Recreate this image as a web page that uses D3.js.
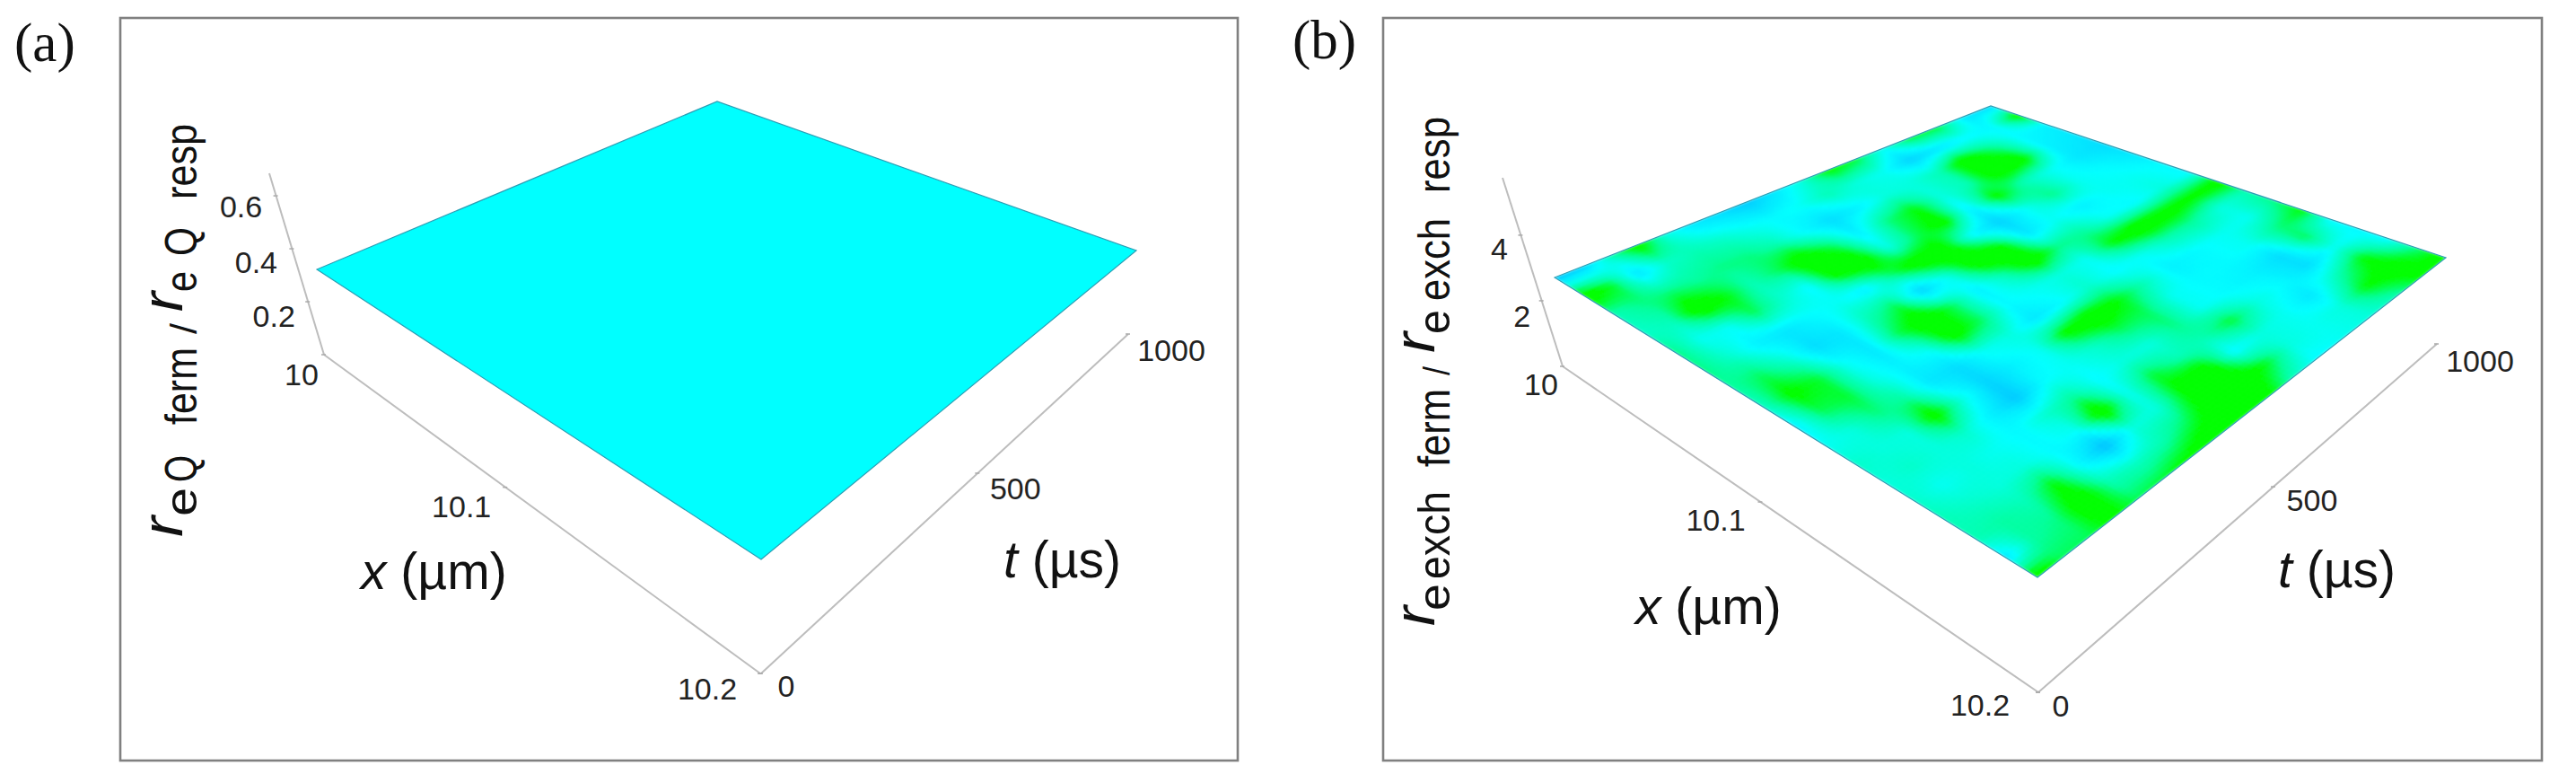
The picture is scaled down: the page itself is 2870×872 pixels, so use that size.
<!DOCTYPE html>
<html><head><meta charset="utf-8">
<style>html,body{margin:0;background:#fff}svg{display:block}text{font-family:"Liberation Sans",Arial,sans-serif;fill:#222}</style>
<script src="https://cdnjs.cloudflare.com/ajax/libs/d3/7.8.5/d3.min.js"></script>
</head><body><svg id="c" width="2870" height="872"></svg>
<script>
// ---- data ----
const xTicks = [10, 10.1, 10.2];
const tTicks = [0, 500, 1000];
const zTicksA = [0.2, 0.4, 0.6];
const zTicksB = [2, 4];
const surfaceA = [[0.4, 0.4], [0.4, 0.4]];
// rows: x from 10 to 10.2; columns: t from 0 to 1000
const surfaceB = [
[2.1,2.2,2.6,2.95,2.5,2.3,2.25,2.15,2.3,2.5,2.9,2.8,2.45,2.8,2.8,2.3,2.2],
[3.0,2.8,2.3,2.55,2.6,2.55,2.45,2.4,2.45,2.6,2.5,2.45,2.2,2.3,2.4,2.4,2.95],
[2.6,2.7,2.7,2.65,2.7,2.7,2.6,2.4,2.25,2.35,2.5,2.5,2.6,3.0,2.7,2.4,2.35],
[2.55,2.6,3.0,2.85,2.6,2.75,3.0,2.75,2.35,2.7,2.85,2.5,2.6,3.0,2.95,2.35,2.3],
[2.7,2.45,2.45,2.75,2.55,2.4,2.95,3.0,2.5,2.75,2.95,2.35,2.9,2.6,2.45,2.3,2.25],
[2.7,2.55,2.35,2.3,2.4,2.45,2.35,2.7,3.0,2.95,2.4,2.2,2.45,2.7,2.45,2.4,2.3],
[2.65,2.75,2.55,2.25,2.3,2.6,2.75,2.2,2.5,3.0,2.95,2.3,2.45,2.35,2.45,2.45,2.4],
[2.55,2.9,2.8,2.45,2.3,2.75,3.0,2.75,2.35,2.6,3.0,2.7,2.65,2.45,2.4,2.5,2.4],
[2.35,2.75,2.8,2.5,2.35,2.45,2.95,2.75,2.4,2.45,2.5,2.45,2.85,3.0,2.95,2.9,2.95],
[2.45,2.5,2.7,2.65,2.3,2.25,2.45,2.5,2.3,2.4,2.55,2.4,2.45,2.6,2.65,2.5,2.6],
[2.55,2.5,2.5,2.95,2.5,2.2,2.35,2.45,2.9,3.0,2.85,2.6,2.35,2.4,2.45,2.45,2.7],
[2.5,2.55,2.5,2.55,2.35,2.15,2.4,2.45,2.55,2.75,2.75,2.45,2.4,2.4,2.45,2.7,2.85],
[2.55,2.45,2.5,2.45,2.4,2.55,2.65,2.4,2.5,2.5,2.7,2.45,2.4,2.35,2.25,2.75,2.4],
[2.6,2.55,2.5,2.5,2.4,2.45,3.0,2.45,2.8,2.6,2.6,2.8,2.5,2.4,2.25,2.45,2.4],
[2.6,2.65,2.6,2.85,2.4,2.1,2.5,2.5,2.9,3.0,2.4,2.5,2.45,2.3,2.6,2.85,2.4],
[2.3,2.65,2.7,3.0,2.6,2.55,2.6,2.75,2.95,3.0,2.85,2.5,2.45,2.5,2.85,2.95,2.7],
[3.0,2.75,2.75,2.9,2.75,2.8,2.9,3.0,3.0,2.95,2.6,2.4,2.45,2.5,2.6,2.85,2.95]
];
const labelA = [
 {s:"r",lo:598,hi:575,big:1},{s:"e",lo:575,hi:543},{s:"Q",lo:537,hi:507},{s:"ferm",lo:473,hi:387},{s:"/",lo:372,hi:360},
 {s:"r",lo:347,hi:325,big:1},{s:"e",lo:325,hi:302},{s:"Q",lo:285,hi:253},{s:"resp",lo:222,hi:138}];
const labelB = [
 {s:"r",lo:697,hi:675,big:1},{s:"e",lo:680,hi:650},{s:"exch",lo:645,hi:547},{s:"ferm",lo:520,hi:433},{s:"/",lo:418,hi:408},
 {s:"r",lo:393,hi:370,big:1},{s:"e",lo:372,hi:345},{s:"exch",lo:335,hi:243},{s:"resp",lo:215,hi:130}];

// ---- layout ----
const panels = [
 {tag:"(a)",tagX:16,tagY:68,frame:[134,20,1379,847],
  quad:{L:[353,300],B:[848,623],R:[1266,279],T:[799,113]},
  zAxis:[[361,395],[300,193]],xAxis:[[361,395],[847,750]],tAxis:[[848,750],[1257,372]],
  zMax:0.685,zTicks:zTicksA,zOff:[[-38,16],[-40,15],[-39,12]],zFmt:d3.format(".1f"),
  xOff:[[-25,22],[-49,21],[-59,17]],tOff:[[28,14],[42,17],[48,18]],
  small:219,bigB:203,yl:labelA,surface:surfaceA,
  xl:{x:402,y:656},tl:{x:1118,y:643}},
 {tag:"(b)",tagX:1440,tagY:65,frame:[1541,20,2832,847],
  quad:{L:[1732,309],B:[2270,643],R:[2725,287],T:[2218,118]},
  zAxis:[[1741,408],[1674,198]],xAxis:[[1741,408],[2271,771]],tAxis:[[2271,771],[2715,383]],
  zMax:5.75,zTicks:zTicksB,zOff:[[-22,17],[-24,15]],zFmt:d3.format("d"),
  xOff:[[-24,20],[-50,20],[-65,14]],tOff:[[25,15],[43,15],[48,19]],
  small:1615,bigB:1598,yl:labelB,surface:surfaceB,
  xl:{x:1822,y:695},tl:{x:2538,y:654}}
];
const fx = d3.scaleLinear([10,10.1,10.2],[0,0.416,1]);
const ft = d3.scaleLinear([0,500,1000],[0,0.59,1]);
const colour = d3.scaleLinear([2.12,2.42,2.67,2.86],["#00c4ff","#00ffff","#00ff9a","#00ff00"]).clamp(true);
const colourA = d3.scaleLinear([0,0.4,1],["#00c4ff","#00ffff","#00ff00"]);
const SUB = 6;
const svg = d3.select("#c");
const lerp=(a,b,f)=>[a[0]+(b[0]-a[0])*f,a[1]+(b[1]-a[1])*f];
const AX="#bdbdbd";
const defs=svg.append("defs");
defs.append("filter").attr("id","soft").attr("x","-5%").attr("y","-5%").attr("width","110%").attr("height","110%")
  .append("feGaussianBlur").attr("stdDeviation",1.5);

panels.forEach((p,pi)=>{
  const g=svg.append("g");
  const f=p.frame;
  g.append("rect").attr("x",f[0]).attr("y",f[1]).attr("width",f[2]-f[0]).attr("height",f[3]-f[1])
    .attr("fill","none").attr("stroke","#808080").attr("stroke-width",2.6);
  g.append("text").text(p.tag).attr("x",p.tagX).attr("y",p.tagY)
    .style("font-family","'Liberation Serif',serif").style("font-size","61px").style("fill","#111");

  // axes
  const fz=d3.scaleLinear([0,p.zMax],[0,1]);
  [[p.zAxis],[p.xAxis],[p.tAxis]].forEach(([a])=>g.append("line")
    .attr("x1",a[0][0]).attr("y1",a[0][1]).attr("x2",a[1][0]).attr("y2",a[1][1])
    .attr("stroke",AX).attr("stroke-width",2));
  const put=(ticks,scale,axis,off,fmt)=>ticks.forEach((v,i)=>{
    const q=lerp(axis[0],axis[1],scale(v));
    g.append("line").attr("x1",q[0]-3).attr("y1",q[1]).attr("x2",q[0]+2).attr("y2",q[1])
      .attr("stroke","#aaa").attr("stroke-width",1.5);
    g.append("text").text(fmt(v)).attr("x",q[0]+off[i][0]).attr("y",q[1]+off[i][1]+12)
      .attr("text-anchor","middle").style("font-size","34px");
  });
  put(p.zTicks,fz,p.zAxis,p.zOff,p.zFmt);
  put(xTicks,fx,p.xAxis,p.xOff,d3.format(".4~f"));
  put(tTicks,ft,p.tAxis,p.tOff,d3.format("d"));

  // surface
  const Q=p.quad, rows=p.surface, n=rows.length-1, m=rows[0].length-1;
  const su=d3.scaleLinear([0,n],[0,1]), sv=d3.scaleLinear([0,m],[0,1]);
  const P=(u,v)=>lerp(lerp(Q.L,Q.T,v),lerp(Q.B,Q.R,v),u);
  const val=(a,b)=>{const i=Math.min(Math.floor(a),n-1),j=Math.min(Math.floor(b),m-1),x=a-i,y=b-j;
    return rows[i][j]*(1-x)*(1-y)+rows[i+1][j]*x*(1-y)+rows[i][j+1]*(1-x)*y+rows[i+1][j+1]*x*y;};
  const cells=[];
  const ns=pi?SUB:1;
  for(let i=0;i<n*ns;i++)for(let j=0;j<m*ns;j++){
    const a=i/ns,b=j/ns,d=1/ns;
    cells.push({v:val(a+d/2,b+d/2),pts:[P(su(a),sv(b)),P(su(a+d),sv(b)),P(su(a+d),sv(b+d)),P(su(a),sv(b+d))]});
  }
  const cid="clip"+pi;
  const outline=[Q.L,Q.B,Q.R,Q.T];
  defs.append("clipPath").attr("id",cid).append("polygon").attr("points",outline.join(" "));
  const col=pi?colour:colourA;
  const holder=g.append("g").attr("clip-path",`url(#${cid})`);
  const cg=holder.append("g"); if(pi) cg.attr("filter","url(#soft)");
  cg.selectAll("polygon").data(cells).join("polygon")
    .attr("points",d=>d.pts.join(" ")).attr("fill",d=>col(d.v)).attr("stroke",d=>col(d.v)).attr("stroke-width",0.7);
  g.append("polygon").attr("points",outline.join(" ")).attr("fill","none").attr("stroke","#2a9fb5").attr("stroke-width",1.2);

  // y label, rotated pieces
  p.yl.forEach(t=>{
    const bx=t.big?p.bigB:p.small;
    g.append("text").text(t.s).attr("transform",`translate(${bx},${t.lo}) rotate(-90)`)
      .attr("textLength",t.lo-t.hi).attr("lengthAdjust","spacingAndGlyphs")
      .style("font-size",t.big?"64px":t.s==="/"?"40px":"50px").style("font-style",t.big?"italic":"normal").style("fill","#111");
  });
  // x and t labels
  const lab=(pos,a,b)=>{const tx=g.append("text").attr("x",pos.x).attr("y",pos.y).style("font-size","57px").style("fill","#111");
    tx.append("tspan").text(a).style("font-style","italic"); tx.append("tspan").text(b);};
  lab(p.xl,"x"," (\u00b5m)");
  lab(p.tl,"t"," (\u00b5s)");
});
</script></body></html>
